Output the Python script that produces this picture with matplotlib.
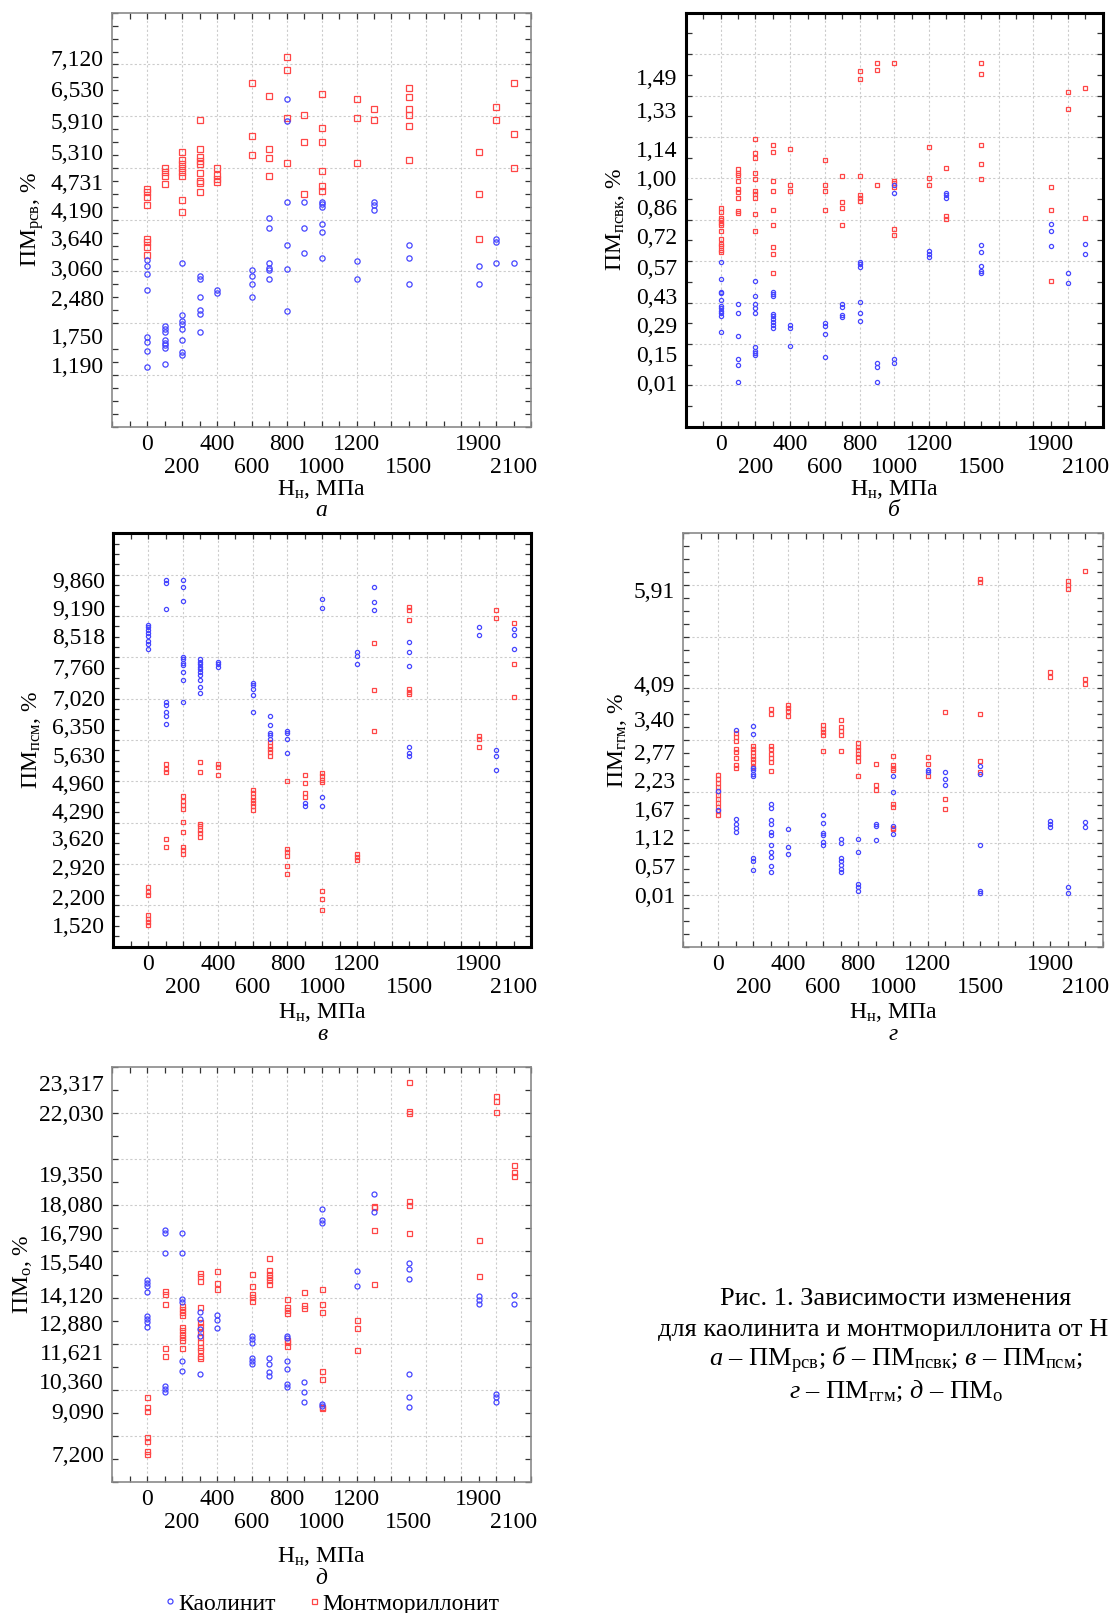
"""
Scatter panels: plasticity indices of kaolinite and montmorillonite vs. normal pressure.
Saves out.png.
"""
import matplotlib
matplotlib.use('Agg')
import matplotlib.pyplot as plt
from matplotlib.lines import Line2D
from matplotlib.ticker import MultipleLocator
import numpy as np

plt.rcParams['font.family'] = ['Liberation Serif', 'DejaVu Serif']
plt.rcParams['mathtext.fontset'] = 'custom'
plt.rcParams['mathtext.rm'] = 'Liberation Serif'
plt.rcParams['mathtext.it'] = 'Liberation Serif:italic'
plt.rcParams['mathtext.bf'] = 'Liberation Serif:bold'

W, H = 1113, 1613
BLUE = '#4646ff'
RED = '#ff4646'

# x tick labels are staggered over two rows
X_TICKS_ROW1 = [0, 400, 800, 1200, 1900]
X_TICKS_ROW2 = [200, 600, 1000, 1500, 2100]

# --- panel a: ПМрсв ---
A_TICKS = ['7,120', '6,530', '5,910', '5,310', '4,731', '4,190', '3,640',
           '3,060', '2,480', '1,750', '1,190']
A_KAOL = {
    0: [3.22, 3.10, 2.95, 2.65, 1.73, 1.63, 1.47, 1.16],
    100: [1.95, 1.89, 1.83, 1.68, 1.61, 1.58, 1.52, 1.21],
    200: [3.16, 2.15, 2.05, 1.99, 1.89, 1.68, 1.44, 1.38],
    300: [2.91, 2.85, 2.50, 2.25, 2.18, 1.83],
    400: [2.65, 2.59],
    600: [3.02, 2.91, 2.75, 2.50],
    700: [4.03, 3.83, 3.16, 3.07, 3.02, 2.85],
    800: [6.33, 5.91, 4.34, 3.52, 3.05, 2.23],
    900: [4.34, 3.83, 3.36],
    1000: [4.34, 4.30, 4.25, 3.92, 3.77, 3.26],
    1200: [3.21, 2.85],
    1300: [4.34, 4.28, 4.18],
    1500: [3.51, 3.26, 2.75],
    1900: [3.11, 2.75],
    2000: [3.63, 3.57, 3.16],
    2100: [3.16],
}
A_MONT = {
    0: [4.60, 4.54, 4.44, 4.29, 3.63, 3.57, 3.47, 3.31],
    100: [5.00, 4.92, 4.85, 4.69],
    200: [5.31, 5.15, 5.07, 4.99, 4.92, 4.85, 4.39, 4.14],
    300: [5.92, 5.36, 5.21, 5.13, 5.07, 4.90, 4.75, 4.70, 4.54],
    400: [5.00, 4.86, 4.79, 4.73],
    600: [6.65, 5.61, 5.25],
    700: [6.39, 5.36, 5.20, 4.85],
    800: [7.15, 6.89, 5.97, 5.10],
    900: [6.02, 5.50, 4.49],
    1000: [6.43, 5.77, 5.50, 4.95, 4.65, 4.55],
    1200: [6.33, 5.97, 5.10],
    1300: [6.13, 5.92],
    1500: [6.54, 6.38, 6.13, 6.03, 5.81, 5.15],
    1900: [5.31, 4.49, 3.63],
    2000: [6.18, 5.92],
    2100: [6.64, 5.66, 5.00],
}

# --- panel б: ПМпсвк ---
B_TICKS = ['1,49', '1,33', '1,14', '1,00', '0,86', '0,72', '0,57', '0,43',
           '0,29', '0,15', '0,01']
B_KAOL = {
    0: [0.594, 0.513, 0.452, 0.444, 0.412, 0.385, 0.373, 0.361, 0.349, 0.333, 0.259],
    100: [0.391, 0.349, 0.239, 0.128, 0.096, 0.015],
    200: [0.502, 0.433, 0.391, 0.373, 0.349, 0.187, 0.168, 0.157, 0.144],
    300: [0.452, 0.441, 0.430, 0.345, 0.333, 0.320, 0.304, 0.292, 0.279],
    400: [0.292, 0.279, 0.189],
    600: [0.301, 0.285, 0.248, 0.136],
    700: [0.393, 0.380, 0.340, 0.329],
    800: [0.594, 0.586, 0.573, 0.401, 0.349, 0.309],
    900: [0.108, 0.088, 0.015],
    1000: [0.970, 0.928, 0.128, 0.108],
    1200: [0.647, 0.634, 0.622],
    1300: [0.931, 0.920, 0.907],
    1500: [0.677, 0.645, 0.574, 0.553, 0.542],
    1900: [0.778, 0.746, 0.674],
    2000: [0.542, 0.492],
    2100: [0.685, 0.634],
}
B_MONT = {
    0: [0.855, 0.839, 0.807, 0.799, 0.786, 0.773, 0.746, 0.706, 0.682, 0.671, 0.655, 0.645],
    100: [1.043, 1.027, 1.016, 0.987, 0.947, 0.936, 0.907, 0.843, 0.831],
    200: [1.191, 1.120, 1.100, 1.027, 0.998, 0.939, 0.923, 0.907, 0.827, 0.746],
    300: [1.162, 1.129, 0.987, 0.937, 0.846, 0.775, 0.666, 0.634, 0.542],
    400: [1.140, 0.968, 0.937],
    600: [1.090, 0.968, 0.937, 0.846],
    700: [1.011, 0.886, 0.857, 0.775],
    800: [1.517, 1.482, 1.011, 0.918, 0.904, 0.888],
    900: [1.557, 1.525, 0.968],
    1000: [1.557, 0.987, 0.976, 0.960, 0.754, 0.725],
    1200: [1.151, 1.000, 0.968],
    1300: [1.048, 0.818, 0.802],
    1500: [1.557, 1.506, 1.162, 1.071, 0.998],
    1900: [0.960, 0.846, 0.502],
    2000: [1.416, 1.333],
    2100: [1.437, 0.806],
}

# --- panel в: ПМпсм ---
C_TICKS = ['9,860', '9,190', '8,518', '7,760', '7,020', '6,350', '5,630',
           '4,960', '4,290', '3,620', '2,920', '2,200', '1,520']
C_KAOL = {
    0: [8.79, 8.73, 8.67, 8.60, 8.52, 8.39, 8.33, 8.19],
    100: [9.86, 9.80, 9.16, 6.91, 6.85, 6.68, 6.58, 6.38],
    200: [9.86, 9.70, 9.36, 8.01, 7.95, 7.87, 7.81, 7.64, 7.44, 6.93],
    300: [7.95, 7.89, 7.83, 7.77, 7.71, 7.64, 7.58, 7.44, 7.28, 7.13],
    400: [7.89, 7.83, 7.77],
    600: [7.39, 7.32, 7.23, 7.09, 6.68],
    700: [6.57, 6.37, 6.18, 6.13, 6.02],
    800: [6.22, 6.17, 6.02, 5.68],
    900: [4.48, 4.41],
    1000: [9.40, 9.20, 4.61, 4.41],
    1200: [8.14, 8.03, 7.84],
    1300: [9.70, 9.35, 9.15],
    1500: [8.38, 8.14, 7.79, 5.82, 5.68, 5.62],
    1900: [8.74, 8.54],
    2000: [5.77, 5.62, 5.27],
    2100: [8.69, 8.55, 8.19],
}
C_MONT = {
    0: [2.44, 2.32, 2.24, 1.76, 1.68, 1.60, 1.52],
    100: [5.43, 5.30, 5.22, 3.61, 3.41],
    200: [4.64, 4.53, 4.43, 4.32, 4.01, 3.77, 3.42, 3.34, 3.25],
    300: [5.47, 5.22, 3.97, 3.91, 3.83, 3.75, 3.65],
    400: [5.43, 5.34, 5.16],
    600: [4.78, 4.71, 4.61, 4.55, 4.48, 4.40, 4.31],
    700: [5.94, 5.86, 5.78, 5.70, 5.62],
    800: [5.00, 3.37, 3.30, 3.19, 2.95, 2.75],
    900: [5.16, 4.96, 4.71, 4.61],
    1000: [5.19, 5.12, 5.04, 4.98, 2.34, 2.15, 1.88],
    1200: [3.25, 3.17, 3.10],
    1300: [8.34, 7.22, 6.22],
    1500: [9.21, 9.15, 8.90, 7.23, 7.17, 7.12],
    1900: [6.10, 6.02, 5.82],
    2000: [9.15, 8.95],
    2100: [8.84, 7.83, 7.03],
}

# --- panel г: ПМггм ---
D_TICKS = ['5,91', '4,09', '3,40', '2,77', '2,23', '1,67', '1,12', '0,57', '0,01']
D_KAOL = {
    0: [2.01, 1.64],
    100: [3.20, 1.47, 1.38, 1.30, 1.22],
    200: [3.28, 3.11, 2.46, 2.41, 2.35, 2.30, 0.71, 0.66, 0.48],
    300: [1.77, 1.68, 1.46, 1.37, 1.22, 1.17, 0.96, 0.84, 0.74, 0.57, 0.44],
    400: [1.27, 0.92, 0.79],
    600: [1.54, 1.40, 1.20, 1.16, 1.02, 0.96],
    700: [1.09, 1.01, 0.71, 0.66, 0.59, 0.51, 0.44],
    800: [1.09, 0.84, 0.21, 0.16, 0.08],
    900: [1.38, 1.33, 1.06],
    1000: [2.30, 2.00, 1.33, 1.19],
    1200: [2.42, 2.38],
    1300: [2.39, 2.25, 2.12],
    1500: [2.49, 2.35, 0.96, 0.08, 0.03],
    1900: [1.43, 1.38, 1.32],
    2000: [0.16, 0.03],
    2100: [1.41, 1.32],
}
D_MONT = {
    0: [2.32, 2.25, 2.17, 2.09, 2.01, 1.94, 1.86, 1.79, 1.70, 1.63, 1.54],
    100: [3.13, 3.05, 2.98, 2.83, 2.77, 2.65, 2.52, 2.46],
    200: [2.89, 2.83, 2.77, 2.70, 2.64, 2.57, 2.48],
    300: [3.60, 3.50, 2.89, 2.83, 2.73, 2.65, 2.57, 2.40],
    400: [3.67, 3.61, 3.57, 3.47],
    600: [3.29, 3.22, 3.15, 3.10, 2.78],
    700: [3.38, 3.25, 3.17, 3.10, 2.78],
    800: [2.94, 2.86, 2.80, 2.73, 2.67, 2.60, 2.30],
    900: [2.53, 2.12, 2.04],
    1000: [2.70, 2.51, 2.46, 2.42, 1.77, 1.70, 1.30, 1.27],
    1200: [2.67, 2.53, 2.30],
    1300: [3.55, 1.86, 1.67],
    1500: [6.12, 6.05, 3.50, 2.59, 2.39],
    1900: [4.31, 4.21],
    2000: [6.08, 6.00, 5.92],
    2100: [6.27, 4.18, 4.08],
}

# --- panel д: ПМо ---
E_TICKS = ['23,317', '22,030', '19,350', '18,080', '16,790', '15,540', '14,120',
           '12,880', '11,621', '10,360', '9,090', '7,200']
E_KAOL = {
    0: [14.74, 14.63, 14.48, 14.26, 13.18, 13.07, 12.93, 12.71],
    100: [16.95, 16.80, 15.93, 10.17, 10.03, 9.88],
    200: [16.82, 15.93, 13.93, 13.80, 11.23, 10.80],
    300: [13.36, 13.07, 12.64, 12.35, 10.68],
    400: [13.25, 13.03, 12.68],
    600: [12.35, 12.20, 12.01, 11.36, 11.23, 11.11],
    700: [11.36, 11.11, 10.78, 10.58],
    800: [12.35, 12.25, 11.23, 10.90, 10.24, 10.13],
    900: [10.35, 9.88, 9.45],
    1000: [17.83, 17.36, 17.25, 9.37, 9.30],
    1200: [15.15, 14.48],
    1300: [18.49, 17.72],
    1500: [15.50, 15.25, 14.80, 10.68, 9.66, 9.23],
    1900: [14.05, 13.90, 13.70],
    2000: [9.81, 9.66, 9.45],
    2100: [14.13, 13.70],
}
E_MONT = {
    0: [9.66, 9.23, 9.08, 7.92, 7.78, 7.34, 7.20],
    100: [14.28, 14.16, 13.70, 11.81, 11.45],
    200: [13.65, 13.51, 13.36, 13.22, 12.71, 12.57, 12.42, 12.28, 12.16, 11.81],
    300: [15.06, 14.92, 14.71, 13.58, 12.93, 12.78, 12.49, 12.28, 12.06, 11.84,
          11.70, 11.48, 11.36],
    400: [15.15, 14.63, 14.38],
    600: [15.03, 14.48, 14.16, 14.02, 13.83],
    700: [15.72, 15.21, 15.03, 14.89, 14.74, 14.60],
    800: [13.92, 13.61, 13.47, 13.34, 12.16, 12.06, 11.91],
    900: [14.26, 13.68, 13.55],
    1000: [14.37, 13.70, 13.36, 10.80, 10.46, 9.26, 9.20],
    1200: [13.03, 12.68, 11.70],
    1300: [17.98, 17.94, 16.95, 14.60],
    1500: [23.34, 22.12, 22.00, 18.18, 18.04, 16.82],
    1900: [16.48, 14.92],
    2000: [22.77, 22.55, 22.07],
    2100: [19.74, 19.45, 19.29],
}

CAPTION = [
    'Рис. 1. Зависимости изменения',
    'для каолинита и монтмориллонита от Н',
    r'$\mathit{а}$ – ПМ$_{\mathrm{рсв}}$; $\mathit{б}$ – ПМ$_{\mathrm{псвк}}$; '
    r'$\mathit{в}$ – ПМ$_{\mathrm{псм}}$;',
    r'$\mathit{г}$ – ПМ$_{\mathrm{ггм}}$; $\mathit{д}$ – ПМ$_{\mathrm{о}}$',
]
# horizontal centre of each caption line, px (the long line starts further left)
CAPTION_X = [896, 883, 896, 896]


def _flatten(groups):
    xs, ys = [], []
    for x, vals in groups.items():
        xs += [x] * len(vals)
        ys += vals
    return np.array(xs, dtype=float), np.array(ys, dtype=float)


def _box(left, top, right, bottom):
    return [left / W, 1 - bottom / H, (right - left) / W, (bottom - top) / H]


def draw_panel(fig, spec):
    ax = fig.add_axes(_box(*spec['box']))
    lo, hi = spec['ylim']
    ax.set_xlim(-200, 2200)
    ax.set_ylim(lo, hi)

    # light dotted grid
    for gx in np.arange(0, 2001, 200):
        ax.axvline(gx, color='#cccccc', lw=0.8, ls=(0, (2, 2)), zorder=0)
    for gy in np.arange(lo + spec['ygrid'], hi - 1e-9, spec['ygrid']):
        ax.axhline(gy, color='#cccccc', lw=0.8, ls=(0, (2, 2)), zorder=0)

    mx, my = _flatten(spec['mont'])
    kx, ky = _flatten(spec['kaol'])
    ax.plot(mx, my, ls='none', marker='s', ms=spec['ms'], mfc='none',
            mec=RED, mew=0.9, zorder=3)
    ax.plot(kx, ky, ls='none', marker='o', ms=spec['ms'], mfc='none',
            mec=BLUE, mew=0.9, zorder=4)

    ax.set_xticks(X_TICKS_ROW1)
    ax.set_xticklabels([str(v) for v in X_TICKS_ROW1], fontsize=17)
    ax.xaxis.set_minor_locator(MultipleLocator(100))

    # second row of x labels on a secondary axis
    sec = ax.secondary_xaxis('bottom')
    sec.set_xticks(X_TICKS_ROW2)
    sec.set_xticklabels([str(v) for v in X_TICKS_ROW2], fontsize=17)
    sec.tick_params(axis='x', length=0, pad=22)
    sec.spines['bottom'].set_visible(False)

    yvals = [float(s.replace(',', '.')) for s in spec['yticks']]
    ax.set_yticks(yvals)
    ax.set_yticklabels(spec['yticks'], fontsize=17)
    ax.yaxis.set_minor_locator(MultipleLocator(spec['yminor']))

    edge = 'black' if spec['heavy'] else '#8a8a8a'
    for s in ax.spines.values():
        s.set_color(edge)
        s.set_linewidth(2.2 if spec['heavy'] else 1.2)
    ax.tick_params(which='both', direction='in', top=True, right=True,
                   color='#333333', width=0.9)
    ax.tick_params(which='minor', length=4)
    ax.tick_params(axis='x', which='major', length=4, pad=5)
    ax.tick_params(axis='y', which='major', length=0, pad=6)

    ax.set_ylabel(spec['ylabel'], fontsize=17)
    ax.yaxis.label.set_va('center')
    ax.yaxis.set_label_coords(spec['ylabel_dx'], 0.5)

    ax.annotate('Н$_{\\mathrm{н}}$, МПа', xy=(0.5, 0), xycoords='axes fraction',
                xytext=(0, -spec['xl_dy']), textcoords='offset pixels',
                ha='center', va='center', fontsize=17)
    ax.annotate(spec['letter'], xy=(0.5, 0), xycoords='axes fraction',
                xytext=(0, -spec['let_dy']), textcoords='offset pixels',
                ha='center', va='center', fontsize=17, style='italic')
    return ax


PANELS = [
    dict(box=(112.3, 12.7, 531.0, 426.7), kaol=A_KAOL, mont=A_MONT, yticks=A_TICKS,
         ylim=(0, 8), ygrid=1, yminor=0.25, ylabel='ПМ$_{\\mathrm{рсв}}$, %',
         letter='а', heavy=False, ms=3.8, ylabel_dx=-0.19, xl_dy=63, let_dy=84),
    dict(box=(686.0, 12.7, 1102.7, 426.7), kaol=B_KAOL, mont=B_MONT, yticks=B_TICKS,
         ylim=(-0.2, 1.8), ygrid=0.2, yminor=0.1, ylabel='ПМ$_{\\mathrm{псвк}}$, %',
         letter='б', heavy=True, ms=3.0, ylabel_dx=-0.17, xl_dy=63, let_dy=84),
    dict(box=(113.3, 533.3, 531.0, 946.7), kaol=C_KAOL, mont=C_MONT, yticks=C_TICKS,
         ylim=(1, 11), ygrid=1, yminor=0.25, ylabel='ПМ$_{\\mathrm{псм}}$, %',
         letter='в', heavy=True, ms=3.0, ylabel_dx=-0.195, xl_dy=66, let_dy=88),
    dict(box=(683.3, 533.3, 1102.7, 946.7), kaol=D_KAOL, mont=D_MONT, yticks=D_TICKS,
         ylim=(-1, 7), ygrid=1, yminor=0.25, ylabel='ПМ$_{\\mathrm{ггм}}$, %',
         letter='г', heavy=False, ms=3.0, ylabel_dx=-0.158, xl_dy=66, let_dy=88),
    dict(box=(112.3, 1067.3, 531.0, 1481.7), kaol=E_KAOL, mont=E_MONT, yticks=E_TICKS,
         ylim=(6, 24), ygrid=2, yminor=1, ylabel='ПМ$_{\\mathrm{о}}$, %',
         letter='д', heavy=False, ms=3.6, ylabel_dx=-0.215, xl_dy=75, let_dy=97),
]


if __name__ == '__main__':
    fig = plt.figure(figsize=(W / 100, H / 100), dpi=100)
    axes = [draw_panel(fig, spec) for spec in PANELS]

    ax_e = axes[-1]
    handles = [
        Line2D([], [], ls='none', marker='o', ms=3.6, mfc='none', mec=BLUE, mew=0.9),
        Line2D([], [], ls='none', marker='s', ms=3.6, mfc='none', mec=RED, mew=0.9),
    ]
    ax_e.legend(handles, ['Каолинит', 'Монтмориллонит'], ncol=2, frameon=False,
                loc='center', bbox_to_anchor=(0.524, -0.295), fontsize=17,
                handlelength=0.5, handletextpad=0.1, columnspacing=1.4,
                borderpad=0, borderaxespad=0)

    for i, (line, cx) in enumerate(zip(CAPTION, CAPTION_X)):
        fig.text(cx / W, 1 - (1299 + 30.7 * i) / H, line, ha='center', va='center',
                 fontsize=19)

    fig.savefig('out.png', dpi=100)
